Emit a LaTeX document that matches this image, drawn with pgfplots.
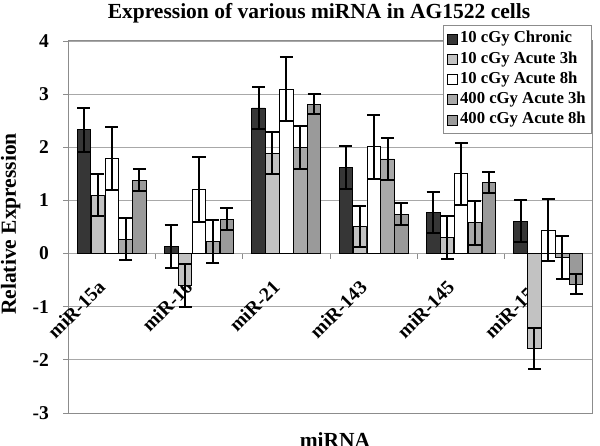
\documentclass[border=0pt]{standalone}
\usepackage{pgfplots}
\pgfplotsset{compat=1.18}
\usepackage{pgfplotstable}
\usepackage{fontspec}
\setmainfont{Liberation Serif}
\definecolor{cchron}{HTML}{363636}
\definecolor{cathree}{HTML}{C2C2C2}
\definecolor{caeight}{HTML}{FFFFFF}
\definecolor{cfthree}{HTML}{A8A8A8}
\definecolor{cfeight}{HTML}{9A9A9A}
\definecolor{gridc}{HTML}{A8A8A8}
\definecolor{framec}{HTML}{8C8C8C}
\newcommand\fbig{\fontsize{21.5bp}{25bp}\selectfont\bfseries}
\newcommand\ftick{\fontsize{19.5bp}{23bp}\selectfont\bfseries}
\newcommand\fleg{\fontsize{16.7bp}{20bp}\selectfont\bfseries}

% x  y  err   (x: 0=miR-15a 1=miR-16 2=miR-21 3=miR-143 4=miR-145 5=miR-155)
\pgfplotstableread{
x y e
0 2.33 0.41
1 0.13 0.41
2 2.74 0.39
3 1.62 0.40
4 0.77 0.39
5 0.61 0.39
}\chronic
\pgfplotstableread{
x y e
0 1.10 0.40
1 -0.60 0.40
2 1.89 0.40
3 0.51 0.38
4 0.30 0.41
5 -1.79 0.39
}\athree
\pgfplotstableread{
x y e
0 1.79 0.60
1 1.20 0.61
2 3.09 0.60
3 2.01 0.60
4 1.50 0.59
5 0.44 0.58
}\aeight
\pgfplotstableread{
x y e
0 0.27 0.40
1 0.23 0.41
2 2.00 0.40
3 1.78 0.40
4 0.58 0.41
5 -0.07 0.40
}\fthree
\pgfplotstableread{
x y e
0 1.38 0.21
1 0.65 0.21
2 2.81 0.19
3 0.74 0.21
4 1.34 0.20
5 -0.58 0.19
}\feight

\begin{document}
\begin{tikzpicture}
\begin{axis}[
  at={(0,0)}, anchor=south west,
  scale only axis, width=524bp, height=372bp,
  xmin=-0.5, xmax=5.5, ymin=-3, ymax=4,
  ybar=0.5bp, bar width=13.4bp,
  xtick=\empty,
  ytick={-3,-2,-1,0,1,2,3,4},
  yticklabels={-3,-2,-1,0,1,2,3,4},
  yticklabel style={font=\ftick, inner sep=0pt, anchor=east, xshift=-14bp},
  ytick pos=left, ytick align=outside, major tick length=5bp,
  tick style={framec, line width=0.8bp},
  ymajorgrids, grid style={gridc, line width=0.9bp},
  axis line style={framec, line width=1bp},
  legend style={at={(1,1)}, anchor=north east, yshift=16bp, xshift=-0.3bp,
    draw=framec, line width=0.9bp, fill=white, font=\fleg,
    inner sep=3.5bp, row sep=0.25bp,
    nodes={inner sep=2bp, text height=12bp, text depth=4bp}},
  legend cell align=left,
  legend image code/.code={\draw[#1, draw=black, line width=0.8bp] (0bp,-5bp) rectangle (10bp,5bp);},
  error bars/y dir=both, error bars/y explicit,
  error bars/error bar style={black, line width=2bp},
  error bars/error mark options={black, line width=2bp, mark size=6.5bp, rotate=90},
  clip=false,
]
\node[xshift=-15bp, yshift=-25.5bp, rotate=45, anchor=north east, inner sep=0pt, font=\ftick] at (axis cs:0,0) {miR-15a};
\node[xshift=-15bp, yshift=-25.5bp, rotate=45, anchor=north east, inner sep=0pt, font=\ftick] at (axis cs:1,0) {miR-16};
\node[xshift=-15bp, yshift=-25.5bp, rotate=45, anchor=north east, inner sep=0pt, font=\ftick] at (axis cs:2,0) {miR-21};
\node[xshift=-15bp, yshift=-25.5bp, rotate=45, anchor=north east, inner sep=0pt, font=\ftick] at (axis cs:3,0) {miR-143};
\node[xshift=-15bp, yshift=-25.5bp, rotate=45, anchor=north east, inner sep=0pt, font=\ftick] at (axis cs:4,0) {miR-145};
\node[xshift=-15bp, yshift=-25.5bp, rotate=45, anchor=north east, inner sep=0pt, font=\ftick] at (axis cs:5,0) {miR-155};
\pgfplotsinvokeforeach{0.5,1.5,2.5,3.5,4.5}{
  \draw[framec, line width=0.8bp] (axis cs:#1,0) -- ++(0bp,-5bp);
}
\addplot[fill=cchron, draw=black, line width=0.8bp] table[x=x, y=y, y error=e] {\chronic};
\addlegendentry{10 cGy Chronic}
\addplot[fill=cathree, draw=black, line width=0.8bp] table[x=x, y=y, y error=e] {\athree};
\addlegendentry{10 cGy Acute 3h}
\addplot[fill=caeight, draw=black, line width=0.8bp] table[x=x, y=y, y error=e] {\aeight};
\addlegendentry{10 cGy Acute 8h}
\addplot[fill=cfthree, draw=black, line width=0.8bp] table[x=x, y=y, y error=e] {\fthree};
\addlegendentry{400 cGy Acute 3h}
\addplot[fill=cfeight, draw=black, line width=0.8bp] table[x=x, y=y, y error=e] {\feight};
\addlegendentry{400 cGy Acute 8h}
\end{axis}
\node[anchor=north, inner sep=0pt, font=\fbig] at (251bp,410bp) {Expression of various miRNA in AG1522 cells};
\node[anchor=north, inner sep=0pt, font=\fbig] at (267bp,-19bp) {miRNA};
\node[anchor=base, rotate=90, inner sep=0pt, font=\fbig] at (-52bp,189bp) {Relative Expression};
\pgfresetboundingbox
\useasboundingbox (-68bp,-33bp) rectangle (532bp,413bp);
\end{tikzpicture}
\end{document}
